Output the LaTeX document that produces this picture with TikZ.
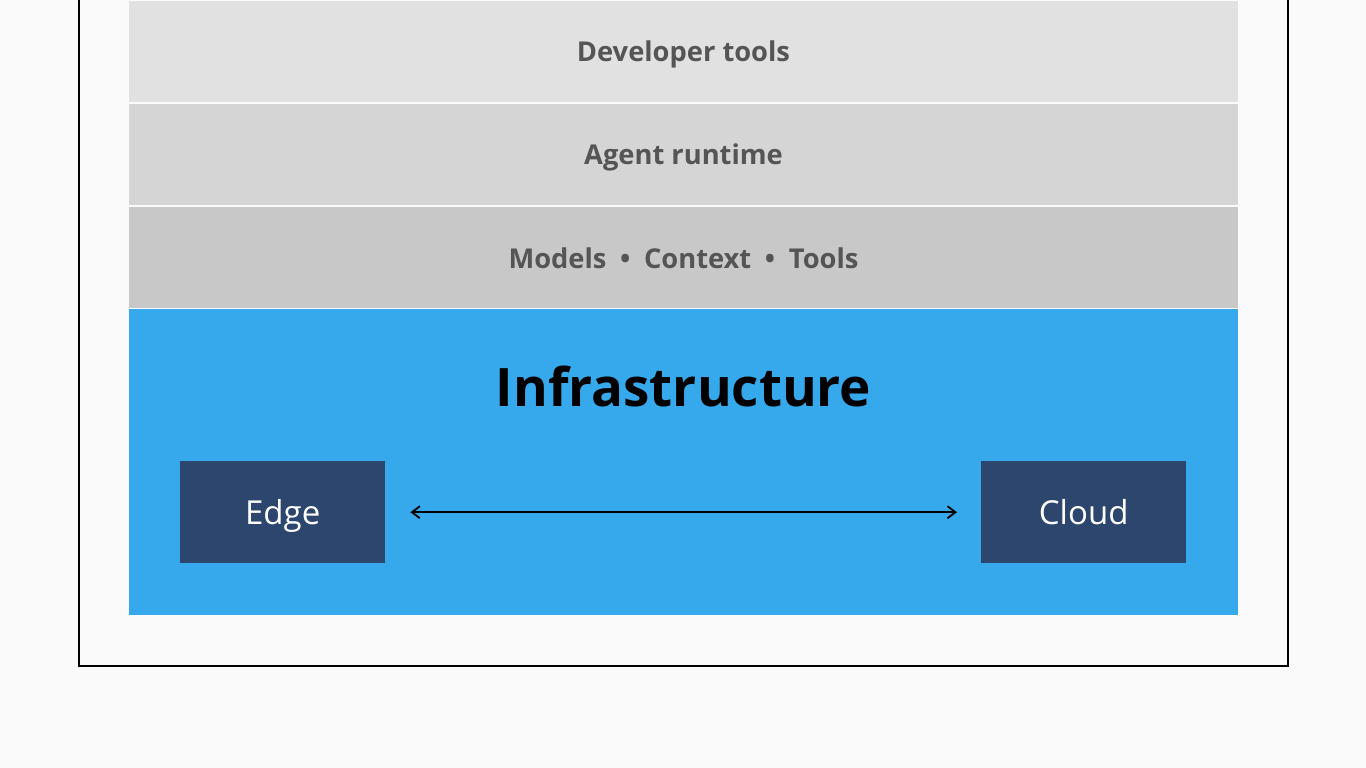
\documentclass[tikz,border=0pt]{standalone}
\usepackage{fontspec}
\setmainfont{Open Sans}
\usetikzlibrary{arrows.meta}
\definecolor{bg}{HTML}{FAFAFA}
\definecolor{l1}{HTML}{E1E1E1}
\definecolor{l2}{HTML}{D5D5D5}
\definecolor{l3}{HTML}{C8C8C8}
\definecolor{infra}{HTML}{35A9EC}
\definecolor{boxc}{HTML}{2D466D}
\definecolor{txtg}{HTML}{555555}
\tikzset{
  layertext/.style={text=txtg, font=\bfseries\fontsize{27.3}{32}\selectfont},
  infrabox/.style={draw=none, fill=boxc, text=white, minimum width=205pt, minimum height=102pt, inner sep=0pt, text height=27pt, text depth=3pt, font=\fontsize{33}{38}\selectfont, anchor=north west},
  link/.style={line width=1.8pt, {Straight Barb[length=8pt,width=12pt,line width=1.8pt]}-{Straight Barb[length=8pt,width=12pt,line width=1.8pt]}}
}
\begin{document}
\begin{tikzpicture}[x=1pt,y=-1pt]
\useasboundingbox (0,0) rectangle (1366,768);
\fill[bg] (0,0) rectangle (1366,768);
\draw[line width=2.4pt] (79,-20) -- (79,666) -- (1288,666) -- (1288,-20);
\fill[l1] (129,1) rectangle (1238,102);
\fill[l2] (129,104) rectangle (1238,205);
\fill[l3] (129,207) rectangle (1238,308);
\fill[infra] (129,309) rectangle (1238,615);
\node[layertext] (dev) at (683.5,54) {Developer tools};
\node[layertext] (agent) at (683.5,157) {Agent runtime};
\node[layertext] (models) at (683.5,258) {Models\enspace\textbullet\enspace Context\enspace\textbullet\enspace Tools};
\node[text=black, font=\bfseries\fontsize{53}{60}\selectfont] (infra) at (683.5,386) {Infrastructure};
\node[infrabox] (edge) at (180,461) {Edge};
\node[infrabox] (cloud) at (981,461) {Cloud};
\draw[link, shorten <=25pt, shorten >=24pt] (edge.east) -- (cloud.west);
\end{tikzpicture}
\end{document}
